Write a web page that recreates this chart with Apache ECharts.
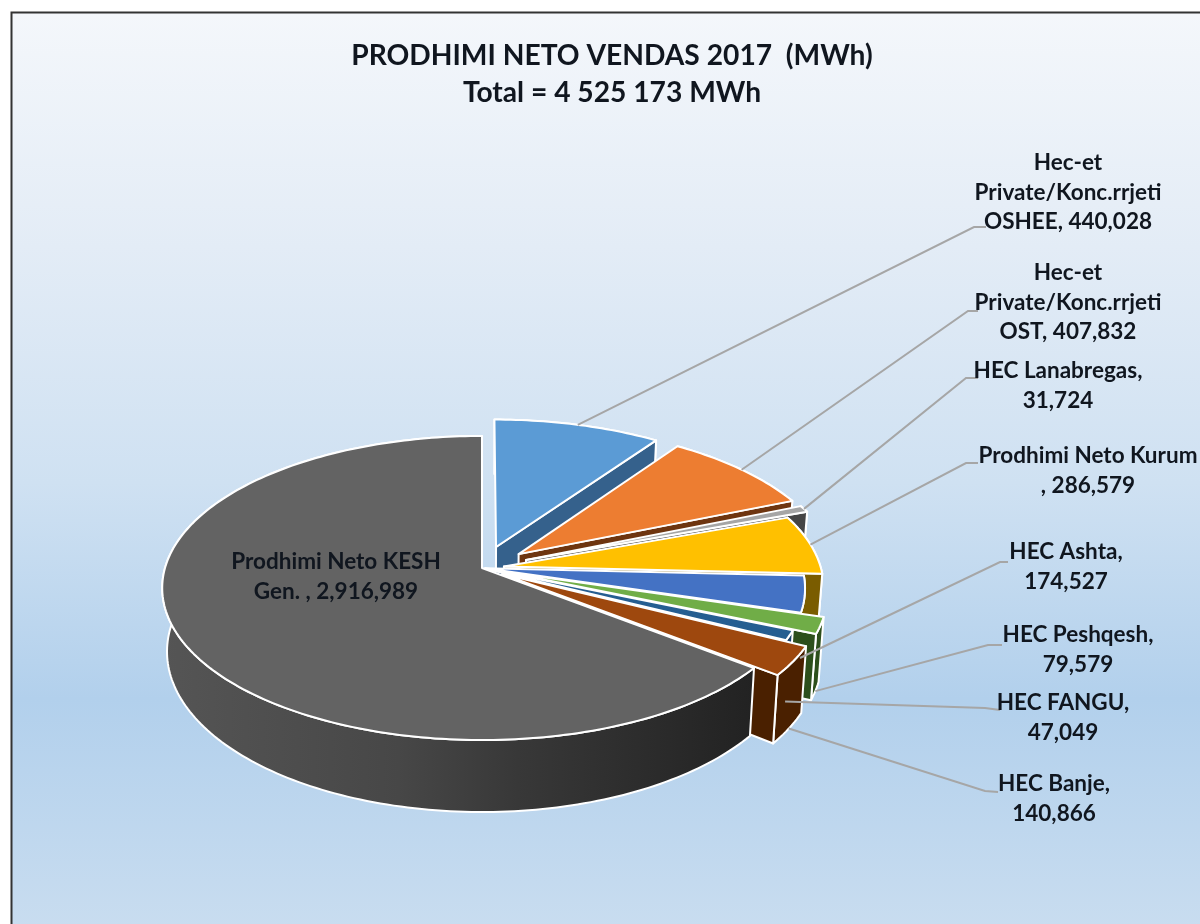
<!DOCTYPE html>
<html>
<head>
<meta charset="utf-8">
<title>Prodhimi neto vendas 2017</title>
<script src="https://cdn.jsdelivr.net/npm/echarts@6/dist/echarts.min.js"></script>
<style>
  html, body { margin: 0; padding: 0; background: #fff; }
  #myChart { width: 1200px; height: 924px; }
</style>
</head>
<body>
<div id="myChart"></div>
<script>
  // data, clockwise from 12 o'clock
  const categories = [
    'Hec-et Private/Konc.rrjeti OSHEE', 'Hec-et Private/Konc.rrjeti OST', 'HEC Lanabregas',
    'Prodhimi Neto Kurum', 'HEC Ashta', 'HEC Peshqesh', 'HEC FANGU', 'HEC Banje', 'Prodhimi Neto KESH Gen.'
  ];
  const values = [440028, 407832, 31724, 286579, 174527, 79579, 47049, 140866, 2916989];
  const labelLines = [
    ['Hec-et', 'Private/Konc.rrjeti', 'OSHEE, 440,028'],
    ['Hec-et', 'Private/Konc.rrjeti', 'OST, 407,832'],
    ['HEC Lanabregas,', '31,724'],
    ['Prodhimi Neto Kurum', ', 286,579'],
    ['HEC Ashta,', '174,527'],
    ['HEC Peshqesh,', '79,579'],
    ['HEC FANGU,', '47,049'],
    ['HEC Banje,', '140,866'],
    ['Prodhimi Neto KESH', 'Gen. , 2,916,989']
  ];

  // style and layout of each slice
  const topColors = ['#5b9bd5', '#ed7d31', '#a5a5a5', '#ffc000', '#4472c4', '#70ad47', '#255e91', '#9e480e', '#636363'];
  const wallColors = ['#35618c', '#6e3510', '#454545', '#7a5c00', '#2b4a80', '#2d4f1c', '#17406a', '#4a2000', '#2a2a2a'];
  const explode = [0.15, 0.15, 0.15, 0.07, 0.01, 0.08, 0.01, 0.075, 0];
  const labelCenter = [[1068, 163], [1068, 273], [1058, 371], [1088, 456], [1066, 552], [1078, 635], [1063, 703], [1054, 784], [336, 562]];
  const leaderElbow = [[974, 227], [968, 311], [966, 378], [966, 463], [1000, 562], [988, 645], [985, 708], [985, 791], null];
  const leaderEnd = [[986, 227], [978, 311], [978, 378], [978, 463], [1008, 562], [1002, 645], [1000, 710], [998, 792], null];
  const leaderFromBottom = [false, false, false, false, true, true, true, true, false];

  // projection of the tilted disc
  const cx = 482, cy = 568, radiusX = 317, radiusY = 149.4, perspective = 0.1316;
  const depth = 62.5, taper = 0.985;
  const total = values.reduce((a, b) => a + b, 0);

  function sliceAngles(index) {
    let before = 0;
    for (let i = 0; i < index; i++) before += values[i];
    const start = before / total * Math.PI * 2;
    return [start, start + values[index] / total * Math.PI * 2];
  }

  // r: 0 centre, 1 rim. low: point on the lower face
  function project(index, angle, r, low) {
    const a = sliceAngles(index);
    const mid = (a[0] + a[1]) / 2;
    const X = explode[index] * Math.sin(mid) + r * Math.sin(angle);
    const Y = -explode[index] * Math.cos(mid) - r * Math.cos(angle);
    const s = 1 / (1 - perspective * Y);
    let x = radiusX * X * s;
    let y = cy + radiusY * Y * s;
    if (low) {
      x *= taper;
      y += depth * s;
    }
    return [cx + x, y];
  }

  function arcPoints(index, from, to, low) {
    const pts = [];
    const steps = Math.max(2, Math.ceil(Math.abs(to - from) / 0.02));
    for (let i = 0; i <= steps; i++) {
      pts.push(project(index, from + (to - from) * i / steps, 1, low));
    }
    return pts;
  }

  function polygon(points, fill, stroke) {
    return {
      type: 'polygon',
      shape: { points: points },
      style: { fill: fill, stroke: stroke, lineWidth: 2, lineJoin: 'round' }
    };
  }

  function renderSlice(params, api) {
    const i = params.dataIndex;
    const a = sliceAngles(i);
    const children = [];
    let wallFill = wallColors[i];
    if (i === values.length - 1) {
      wallFill = new echarts.graphic.LinearGradient(0, 0, 1, 0, [
        { offset: 0, color: '#555555' },
        { offset: 0.4, color: '#474747' },
        { offset: 0.6, color: '#383838' },
        { offset: 1, color: '#222222' }
      ]);
    }
    // outer wall
    children.push(polygon(
      arcPoints(i, a[0], a[1], false).concat(arcPoints(i, a[1], a[0], true)), wallFill, '#fff'
    ));
    // cut face at the end of the slice, only seen on the right half
    if (a[1] < Math.PI) {
      children.push(polygon([
        project(i, a[1], 0, false), project(i, a[1], 1, false),
        project(i, a[1], 1, true), project(i, a[1], 0, true)
      ], wallColors[i], '#fff'));
    }
    // top face
    children.push(polygon(
      [project(i, a[0], 0, false)].concat(arcPoints(i, a[0], a[1], false)), topColors[i], '#fff'
    ));
    return { type: 'group', children: children };
  }

  function renderLabel(params, api) {
    const i = params.dataIndex;
    const children = [];
    if (leaderElbow[i]) {
      const a = sliceAngles(i);
      children.push({
        type: 'polyline',
        shape: { points: [project(i, (a[0] + a[1]) / 2, 1, leaderFromBottom[i]), leaderElbow[i], leaderEnd[i]] },
        style: { fill: null, stroke: '#a6a6a6', lineWidth: 2 }
      });
    }
    labelLines[i].forEach((line, k) => {
      children.push({
        type: 'text',
        style: {
          x: labelCenter[i][0],
          y: labelCenter[i][1] + k * 29.5,
          text: line,
          fill: '#10161f',
          font: 'bold 22.5px Lato, "Noto Sans", sans-serif',
          align: 'center',
          verticalAlign: 'middle'
        }
      });
    });
    return { type: 'group', children: children };
  }

  let myChart = echarts.init(document.getElementById('myChart'), null, { renderer: 'canvas' });

  myChart.setOption({
    animation: false,
    backgroundColor: '#ffffff',
    title: {
      text: 'PRODHIMI NETO VENDAS 2017  (MWh)\nTotal = 4 525 173 MWh',
      left: 607,
      top: 32,
      textAlign: 'center',
      textStyle: {
        fontFamily: 'Lato, "Noto Sans", sans-serif',
        fontWeight: 'bold',
        fontSize: 28.2,
        lineHeight: 37,
        color: '#10161f'
      }
    },
    graphic: [{
      type: 'rect',
      z: -10,
      silent: true,
      shape: { x: 11.5, y: 12.5, width: 1220, height: 940 },
      style: {
        fill: new echarts.graphic.LinearGradient(0, 0, 0, 1, [
          { offset: 0, color: '#f4f7fb' },
          { offset: 0.25, color: '#e3ecf6' },
          { offset: 0.5, color: '#cfe1f2' },
          { offset: 0.73, color: '#b2d0ec' },
          { offset: 1, color: '#cbdef0' }
        ]),
        stroke: '#333',
        lineWidth: 2
      }
    }],
    series: [
      {
        type: 'custom',
        name: 'slices',
        coordinateSystem: 'none',
        renderItem: renderSlice,
        data: categories.map((name, i) => ({ name: name, value: [values[i]] })),
        z: 2
      },
      {
        type: 'custom',
        name: 'labels',
        coordinateSystem: 'none',
        renderItem: renderLabel,
        data: categories.map((name, i) => ({ name: name, value: [values[i]] })),
        z: 3
      }
    ]
  });
</script>
</body>
</html>
